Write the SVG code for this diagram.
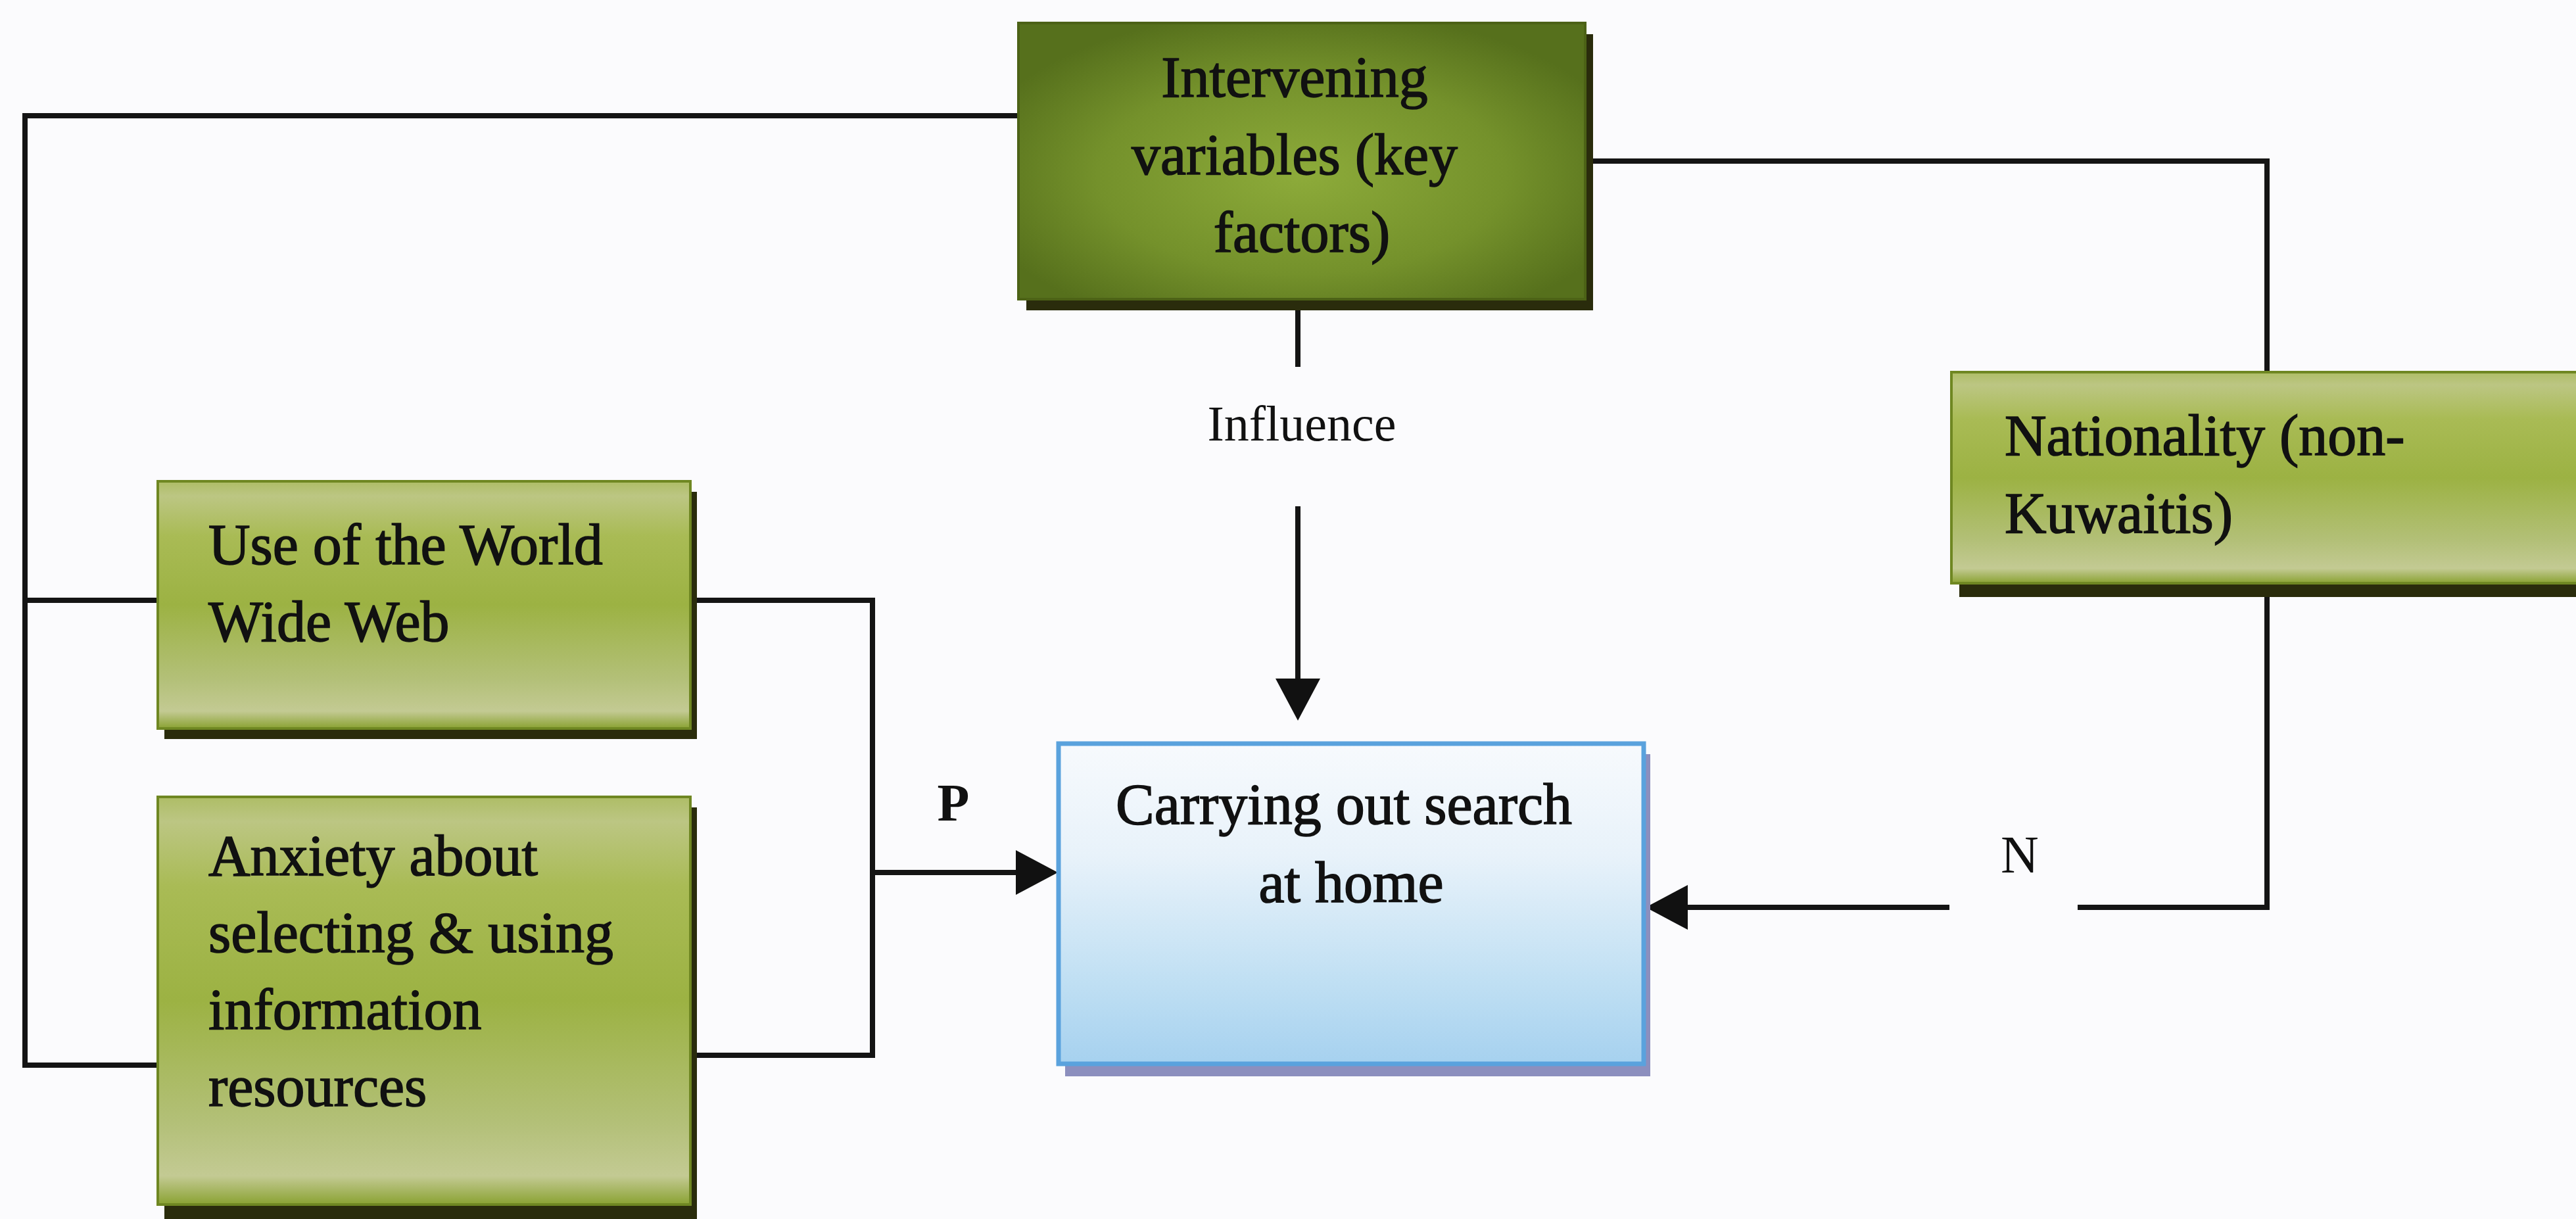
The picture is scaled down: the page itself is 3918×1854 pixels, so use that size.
<svg xmlns="http://www.w3.org/2000/svg" width="3918" height="1854" viewBox="0 0 3918 1854">
  <defs>
    <style>
      .lbl { font-family: "Liberation Serif", "Times New Roman", serif; fill: #111; }
      .box-text { font-size: 88px; stroke: #111; stroke-width: 1.6; }
      .conn { fill: none; stroke: #141414; stroke-width: 8; stroke-linejoin: miter; stroke-linecap: butt; }
      .shadow-green { fill: #2a2c0c; }
      .shadow-blue { fill: #8c8fbe; }
      .green-light { fill: url(#gLight); stroke: #6f8722; stroke-width: 4; }
      .green-dark { fill: url(#gDark); stroke: #4c6216; stroke-width: 4; }
      .blue-box { fill: url(#gBlue); stroke: #5aa2dd; stroke-width: 7; }
    </style>
    <linearGradient id="gLight" x1="0" y1="0" x2="0" y2="1">
      <stop offset="0" stop-color="#aebd66"/>
      <stop offset="0.06" stop-color="#bcc683"/>
      <stop offset="0.22" stop-color="#a9bb55"/>
      <stop offset="0.5" stop-color="#9cb243"/>
      <stop offset="0.8" stop-color="#b3c078"/>
      <stop offset="0.93" stop-color="#c3ca93"/>
      <stop offset="1" stop-color="#8aa232"/>
    </linearGradient>
    <radialGradient id="gDark" cx="0.5" cy="0.55" r="0.6">
      <stop offset="0" stop-color="#8dab3a"/>
      <stop offset="0.6" stop-color="#74912b"/>
      <stop offset="1" stop-color="#56701c"/>
    </radialGradient>
    <linearGradient id="gBlue" x1="0" y1="0" x2="0" y2="1">
      <stop offset="0" stop-color="#f7fafd"/>
      <stop offset="0.35" stop-color="#e8f2fa"/>
      <stop offset="0.75" stop-color="#bfdff3"/>
      <stop offset="1" stop-color="#a6d1ef"/>
    </linearGradient>
    <marker id="arrow" markerUnits="userSpaceOnUse" markerWidth="66" markerHeight="68" refX="0" refY="34" orient="auto">
      <path d="M0,0 L64,34 L0,68 Z" fill="#111"/>
    </marker>
  </defs>

  <rect x="0" y="0" width="3918" height="1854" fill="#fbfbfd"/>

  <!-- connectors and their labels -->
  <g id="connectors">
    <!-- left bracket feeding the intervening box -->
    <path class="conn" d="M1549 176 H38 V1620 H240"/>
    <path class="conn" d="M38 913 H240"/>
    <!-- WWW / anxiety joined into the search box -->
    <path class="conn" d="M1050 913 H1327 V1605 H1050"/>
    <path class="conn" d="M1327 1327 H1545" marker-end="url(#arrow)"/>
    <text class="lbl" x="1450" y="1248" font-size="80" font-weight="bold" text-anchor="middle">P</text>
    <!-- influence arrow -->
    <path class="conn" d="M1974 462 V558"/>
    <path class="conn" d="M1974 770 V1032" marker-end="url(#arrow)"/>
    <text class="lbl" x="1980" y="670" font-size="76" text-anchor="middle">Influence</text>
    <!-- right loop through nationality -->
    <path class="conn" d="M2411 245 H3448 V567"/>
    <path class="conn" d="M3448 895 V1380 H3160"/>
    <path class="conn" d="M2965 1380 H2567" marker-end="url(#arrow)"/>
    <text class="lbl" x="3072" y="1327" font-size="80" text-anchor="middle">N</text>
  </g>

  <g id="node-intervening">
    <rect class="shadow-green" x="1561" y="52" width="862" height="420"/>
    <rect class="green-dark" x="1549" y="35" width="862" height="420"/>
    <text class="lbl box-text" text-anchor="middle">
      <tspan x="1980" y="147">Intervening</tspan>
      <tspan x="1980" y="265">variables (key</tspan>
      <tspan x="1980" y="383">factors)</tspan>
    </text>
  </g>

  <g id="node-www">
    <rect class="shadow-green" x="250" y="748" width="810" height="376"/>
    <rect class="green-light" x="240" y="732" width="810" height="376"/>
    <text class="lbl box-text">
      <tspan x="317" y="858">Use of the World</tspan>
      <tspan x="317" y="975">Wide Web</tspan>
    </text>
  </g>

  <g id="node-anxiety">
    <rect class="shadow-green" x="250" y="1228" width="810" height="640"/>
    <rect class="green-light" x="240" y="1212" width="810" height="620"/>
    <text class="lbl box-text">
      <tspan x="317" y="1331">Anxiety about</tspan>
      <tspan x="317" y="1448">selecting &amp; using</tspan>
      <tspan x="317" y="1565">information</tspan>
      <tspan x="317" y="1682">resources</tspan>
    </text>
  </g>

  <g id="node-search">
    <rect class="shadow-blue" x="1620" y="1147" width="890" height="490"/>
    <rect class="blue-box" x="1610" y="1131" width="890" height="487"/>
    <text class="lbl box-text" text-anchor="middle">
      <tspan x="2055" y="1253">Carrying out search</tspan>
      <tspan x="2055" y="1372">at home</tspan>
    </text>
  </g>

  <g id="node-nationality">
    <rect class="shadow-green" x="2980" y="582" width="960" height="326"/>
    <rect class="green-light" x="2968" y="566" width="980" height="321"/>
    <text class="lbl box-text">
      <tspan x="3049" y="692">Nationality (non-</tspan>
      <tspan x="3049" y="810">Kuwaitis)</tspan>
    </text>
  </g>
</svg>
